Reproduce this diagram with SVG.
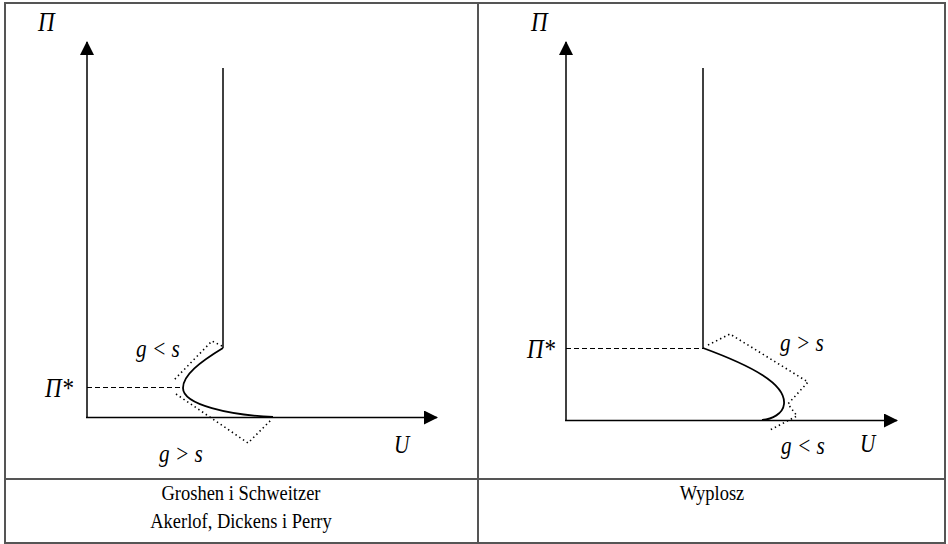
<svg xmlns="http://www.w3.org/2000/svg" width="948" height="544" viewBox="0 0 948 544">
<defs>
<marker id="arr" viewBox="0 0 14 14" refX="13" refY="7" markerWidth="14" markerHeight="14" markerUnits="userSpaceOnUse" orient="auto">
<path d="M0,0 L14,7 L0,14 Z" fill="#000"/>
</marker>
</defs>
<style>
.frame{fill:none;stroke:#555;stroke-width:2}
.axis{fill:none;stroke:#000;stroke-width:1.5;marker-end:url(#arr)}
.ln{fill:none;stroke:#000;stroke-width:1.5}
.cv{fill:none;stroke:#000;stroke-width:1.8}
.dash{fill:none;stroke:#000;stroke-width:1.2;stroke-dasharray:5,3}
.dot{fill:none;stroke:#000;stroke-width:1.6;stroke-dasharray:1.4,3.1}
.it{font-family:"Liberation Serif","Times New Roman",serif;font-style:italic;font-size:25px;fill:#000}
.pi{font-family:"Liberation Serif","Times New Roman",serif;font-style:italic;font-size:27px;fill:#000}
.cap{font-family:"Liberation Serif","Times New Roman",serif;font-size:22px;fill:#000;text-anchor:middle}
</style>
<g id="table">
<rect class="frame" x="5" y="3" width="940" height="540"/>
<line class="frame" x1="478" y1="3" x2="478" y2="543"/>
<line class="frame" x1="5" y1="479" x2="945" y2="479"/>
</g>
<g id="connectors">
<line class="axis" x1="87" y1="418" x2="87" y2="42"/>
<line class="axis" x1="86" y1="417.5" x2="437" y2="417.5"/>
<line class="ln" x1="223" y1="68" x2="223" y2="348"/>
<path class="cv" d="M223,348 C200,362 183,375 183,388 C183,405 230,415 273,417"/>
<line class="dash" x1="87" y1="387.5" x2="183" y2="387.5"/>
<polyline class="dot" points="222,346 212,341 173,381"/>
<polyline class="dot" points="176,394 248,443 272,419"/>

<line class="axis" x1="566" y1="421" x2="566" y2="42"/>
<line class="axis" x1="565" y1="420.5" x2="897" y2="420.5"/>
<line class="ln" x1="703" y1="68" x2="703" y2="348"/>
<path class="cv" d="M703,348 C752,366 786,384 784,404 C783,414 772,419 762,420"/>
<line class="dash" x1="566" y1="348.5" x2="703" y2="348.5"/>
<polyline class="dot" points="708,345 730,334 808,382 788,404 797,416 770,430"/>
</g>
<g id="labels">
<text class="pi" transform="translate(38,31) scale(0.85,1)">Π</text>
<text class="pi" transform="translate(45,397) scale(0.85,1)">Π*</text>
<text class="it" transform="translate(136,357) scale(0.85,1)">g &lt; s</text>
<text class="it" transform="translate(159,462) scale(0.85,1)">g &gt; s</text>
<text class="it" transform="translate(394,453) scale(0.85,1)">U</text>
<text class="pi" transform="translate(531,31) scale(0.85,1)">Π</text>
<text class="pi" transform="translate(527,358) scale(0.85,1)">Π*</text>
<text class="it" transform="translate(780,351) scale(0.85,1)">g &gt; s</text>
<text class="it" transform="translate(781,454) scale(0.85,1)">g &lt; s</text>
<text class="it" transform="translate(860,452) scale(0.85,1)">U</text>
</g>
<g id="captions">
<text class="cap" transform="translate(241,500) scale(0.84,1)">Groshen i Schweitzer</text>
<text class="cap" transform="translate(241,528) scale(0.84,1)">Akerlof, Dickens i Perry</text>
<text class="cap" transform="translate(712,500) scale(0.84,1)">Wyplosz</text>
</g>
</svg>
